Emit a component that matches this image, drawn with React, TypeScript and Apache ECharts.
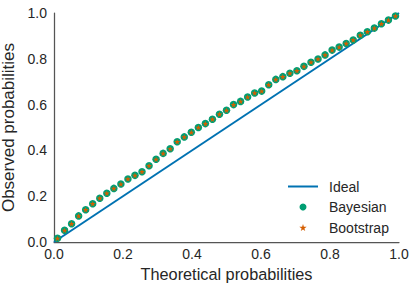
import React, { useEffect, useRef } from "react";
import * as echarts from "echarts";

const theoretical = [
  0.0102, 0.0306, 0.051, 0.0714, 0.0918, 0.1122, 0.1327, 0.1531, 0.1735, 0.1939,
  0.2143, 0.2347, 0.2551, 0.2755, 0.2959, 0.3163, 0.3367, 0.3571, 0.3776, 0.398,
  0.4184, 0.4388, 0.4592, 0.4796, 0.5, 0.5204, 0.5408, 0.5612, 0.5816, 0.602,
  0.6224, 0.6429, 0.6633, 0.6837, 0.7041, 0.7245, 0.7449, 0.7653, 0.7857, 0.8061,
  0.8265, 0.8469, 0.8673, 0.8878, 0.9082, 0.9286, 0.949, 0.9694, 0.9898,
];

const bayesian = [
  0.016, 0.051, 0.08, 0.114, 0.141, 0.167, 0.191, 0.213, 0.234, 0.253,
  0.275, 0.291, 0.307, 0.333, 0.361, 0.387, 0.407, 0.438, 0.459, 0.479,
  0.5, 0.517, 0.536, 0.558, 0.575, 0.6, 0.614, 0.633, 0.651, 0.659,
  0.687, 0.71, 0.722, 0.737, 0.748, 0.767, 0.785, 0.799, 0.817, 0.838,
  0.851, 0.867, 0.882, 0.903, 0.918, 0.934, 0.953, 0.969, 0.987,
];

const bootstrap = [
  0.016, 0.051, 0.08, 0.114, 0.141, 0.167, 0.191, 0.213, 0.234, 0.253,
  0.275, 0.291, 0.307, 0.333, 0.361, 0.387, 0.407, 0.438, 0.459, 0.479,
  0.5, 0.517, 0.536, 0.558, 0.575, 0.6, 0.614, 0.633, 0.651, 0.659,
  0.687, 0.71, 0.722, 0.737, 0.748, 0.767, 0.785, 0.799, 0.817, 0.838,
  0.851, 0.867, 0.882, 0.903, 0.918, 0.934, 0.953, 0.969, 0.987,
];

const idealX = [0, 1];
const idealY = [0, 1];

const STAR =
  "path://M50,0 L61,35 L98,35 L68,57 L79,91 L50,70 L21,91 L32,57 L2,35 L39,35 Z";
const LINE_ICON = "path://M0,0 L30,0 L30,2 L0,2 Z";

const FONT = "'Liberation Sans', Arial, Helvetica, sans-serif";
const TEXT = "#262626";
const AXIS = "#555555";

export default function App() {
  const ref = useRef<HTMLDivElement>(null);

  useEffect(() => {
    if (!ref.current) return;
    const chart = echarts.init(ref.current, undefined, { renderer: "svg" });
    const axisCommon = {
      type: "value" as const,
      min: 0,
      max: 1,
      interval: 0.2,
      nameLocation: "middle" as const,
      axisLine: { show: true, lineStyle: { color: AXIS, width: 1.25 } },
      axisTick: { show: false },
      splitLine: { show: false },
    };
    const labelCommon = {
      fontSize: 14,
      color: TEXT,
      fontFamily: FONT,
      formatter: (v: number) => v.toFixed(1),
    };
    chart.setOption({
      animation: false,
      backgroundColor: "#ffffff",
      textStyle: { fontFamily: FONT },
      grid: {
        left: 54,
        right: 17,
        top: 13,
        bottom: 49,
        containLabel: false,
        outerBoundsMode: "none",
      },
      xAxis: {
        ...axisCommon,
        name: "Theoretical probabilities",
        nameGap: 23,
        nameTextStyle: { fontSize: 16.3, color: TEXT, fontFamily: FONT },
        axisLabel: { ...labelCommon, margin: 5 },
      },
      yAxis: {
        ...axisCommon,
        name: "Observed probabilities",
        nameGap: 28,
        nameTextStyle: { fontSize: 17, color: TEXT, fontFamily: FONT },
        axisLabel: { ...labelCommon, margin: 7 },
      },
      legend: {
        orient: "vertical",
        left: 283,
        top: 174,
        itemWidth: 30,
        itemHeight: 7,
        itemGap: 5.5,
        symbolKeepAspect: true,
        textStyle: {
          fontSize: 14,
          color: TEXT,
          fontFamily: FONT,
          lineHeight: 15,
          padding: [0, 0, 0, 6],
        },
        data: [
          { name: "Ideal", icon: LINE_ICON },
          { name: "Bayesian" },
          { name: "Bootstrap" },
        ],
      },
      series: [
        {
          name: "Ideal",
          type: "line",
          symbol: "none",
          data: idealX.map((x, i) => [x, idealY[i]]),
          lineStyle: { color: "#0072B2", width: 2 },
          itemStyle: { color: "#0072B2" },
          z: 1,
        },
        {
          name: "Bayesian",
          type: "scatter",
          symbol: "circle",
          symbolSize: 7.5,
          data: theoretical.map((x, i) => [x, bayesian[i]]),
          itemStyle: { color: "#009E73", opacity: 1 },
          z: 2,
        },
        {
          name: "Bootstrap",
          type: "scatter",
          symbol: STAR,
          symbolSize: 6,
          symbolKeepAspect: true,
          data: theoretical.map((x, i) => [x, bootstrap[i]]),
          itemStyle: { color: "#D55E00", opacity: 1 },
          z: 3,
        },
      ],
    });
    return () => chart.dispose();
  }, []);

  return (
    <div
      ref={ref}
      style={{ position: "fixed", left: 0, top: 0, width: 416, height: 291 }}
    />
  );
}
